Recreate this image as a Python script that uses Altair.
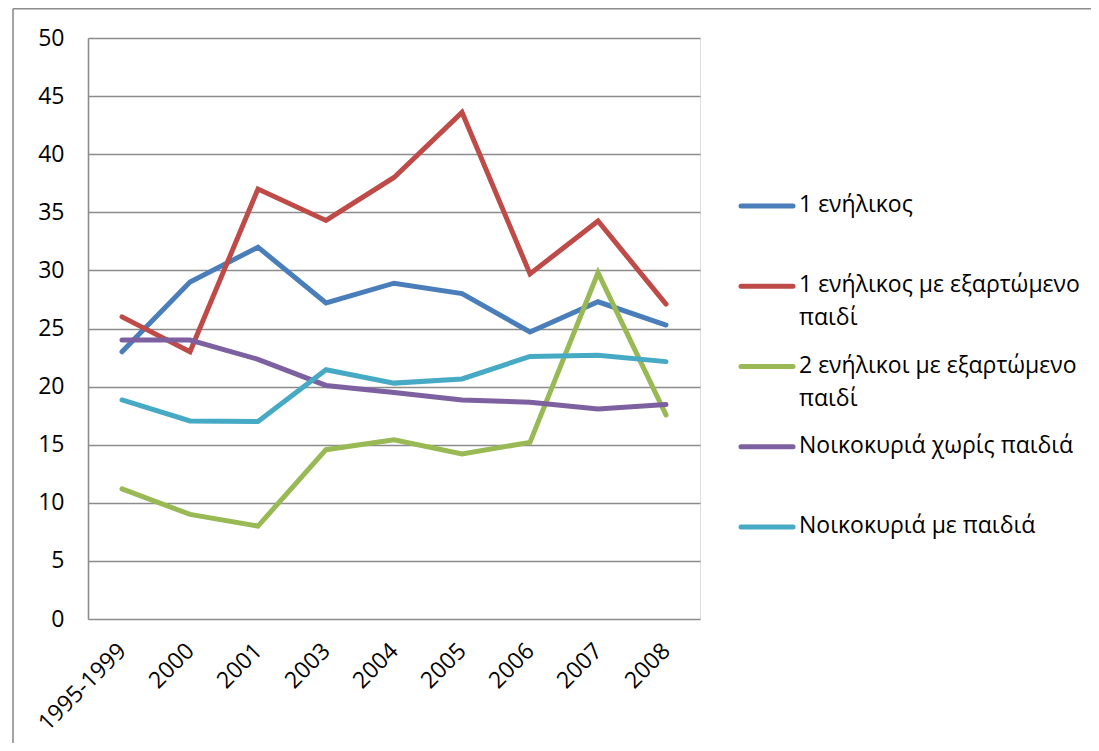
import altair as alt
import pandas as pd

periods = ["1995-1999", "2000", "2001", "2003", "2004", "2005", "2006", "2007", "2008"]
series = [
    "1 ενήλικος",
    "1 ενήλικος με εξαρτώμενο παιδί",
    "2 ενήλικοι με εξαρτώμενο παιδί",
    "Νοικοκυριά χωρίς παιδιά",
    "Νοικοκυριά με παιδιά",
]
legend_lines = [
    ["1 ενήλικος"],
    ["1 ενήλικος με εξαρτώμενο", "παιδί"],
    ["2 ενήλικοι με εξαρτώμενο", "παιδί"],
    ["Νοικοκυριά χωρίς παιδιά"],
    ["Νοικοκυριά με παιδιά"],
]
colors = ["#4A7EBB", "#BE4B48", "#98B954", "#7D60A0", "#46AAC5"]

one_adult = [23.0, 29.0, 32.0, 27.2, 28.9, 28.0, 24.7, 27.3, 25.3]
one_adult_child = [26.0, 23.0, 37.0, 34.3, 38.0, 43.6, 29.7, 34.25, 27.1]
two_adults_child = [11.2, 9.0, 8.0, 14.57, 15.43, 14.2, 15.2, 29.8, 17.56]
no_children = [24.0, 24.0, 22.35, 20.1, 19.5, 18.85, 18.65, 18.07, 18.45]
with_children = [18.85, 17.05, 17.0, 21.45, 20.3, 20.66, 22.6, 22.7, 22.15]

values = [one_adult, one_adult_child, two_adults_child, no_children, with_children]

rows = []
for s, vals in zip(series, values):
    for p, v in zip(periods, vals):
        rows.append({"period": p, "series": s, "value": v})
df = pd.DataFrame(rows)

leg_df = pd.DataFrame({"series": series, "label": legend_lines})

FONT = "Open Sans"
FS = 23
GRID = "#8c8c8c"

color_scale = alt.Scale(domain=series, range=colors)

lines = alt.Chart(df).mark_line(strokeWidth=5, strokeCap="round").encode(
    x=alt.X(
        "period:N",
        sort=periods,
        scale=alt.Scale(type="point", padding=0.5),
        axis=alt.Axis(
            title=None,
            labelAngle=-45,
            labelAlign="right",
            labelBaseline="middle",
            labelPadding=28,
            ticks=False,
            grid=False,
            domain=False,
            labelFont=FONT,
            labelFontSize=FS,
            labelColor="#000000",
        ),
    ),
    y=alt.Y(
        "value:Q",
        scale=alt.Scale(domain=[0, 50], nice=False, zero=True),
        axis=alt.Axis(
            title=None,
            values=list(range(0, 51, 5)),
            ticks=False,
            grid=True,
            gridColor=GRID,
            gridWidth=1.6,
            domain=True,
            domainColor=GRID,
            domainWidth=1.6,
            labelPadding=24,
            labelFont=FONT,
            labelFontSize=FS,
            labelColor="#000000",
        ),
    ),
    color=alt.Color("series:N", scale=color_scale, legend=None),
    order=alt.Order("period_idx:Q"),
).transform_calculate(
    period_idx="indexof(" + str(periods) + ", datum.period)"
)

leg_y = alt.Y(
    "series:N",
    sort=series,
    scale=alt.Scale(type="point", range=[168, 489], padding=0),
    axis=None,
)

leg_sym = alt.Chart(leg_df).mark_rule(strokeWidth=5, strokeCap="round").encode(
    x=alt.value(653),
    x2=alt.value(705),
    y=leg_y,
    color=alt.Color("series:N", scale=color_scale, legend=None),
)

leg_txt = alt.Chart(leg_df).mark_text(
    align="left", baseline="top", dy=-12, lineHeight=33,
    font=FONT, fontSize=FS, color="#000000",
).encode(
    x=alt.value(711),
    y=leg_y,
    text=alt.Text("label:N"),
)

frame_df = pd.DataFrame({"k": ["frame"]})
frame_top = alt.Chart(frame_df).mark_rule(color=GRID, strokeWidth=1.6).encode(
    x=alt.value(-75), x2=alt.value(1200), y=alt.value(-29.2),
)
frame_left = alt.Chart(frame_df).mark_rule(color=GRID, strokeWidth=1.6).encode(
    x=alt.value(-75), y=alt.value(-29.2), y2=alt.value(900),
)

chart = alt.layer(lines, leg_sym, leg_txt, frame_top, frame_left).resolve_scale(
    y="independent"
).properties(
    width=612,
    height=581,
    padding={"left": 80, "top": 30, "right": 391, "bottom": 124},
    autosize=alt.AutoSizeParams(type="none"),
).configure_view(stroke=None).configure(background="#ffffff")

chart.save("out.html", embed_options={"renderer": "svg", "actions": False})
